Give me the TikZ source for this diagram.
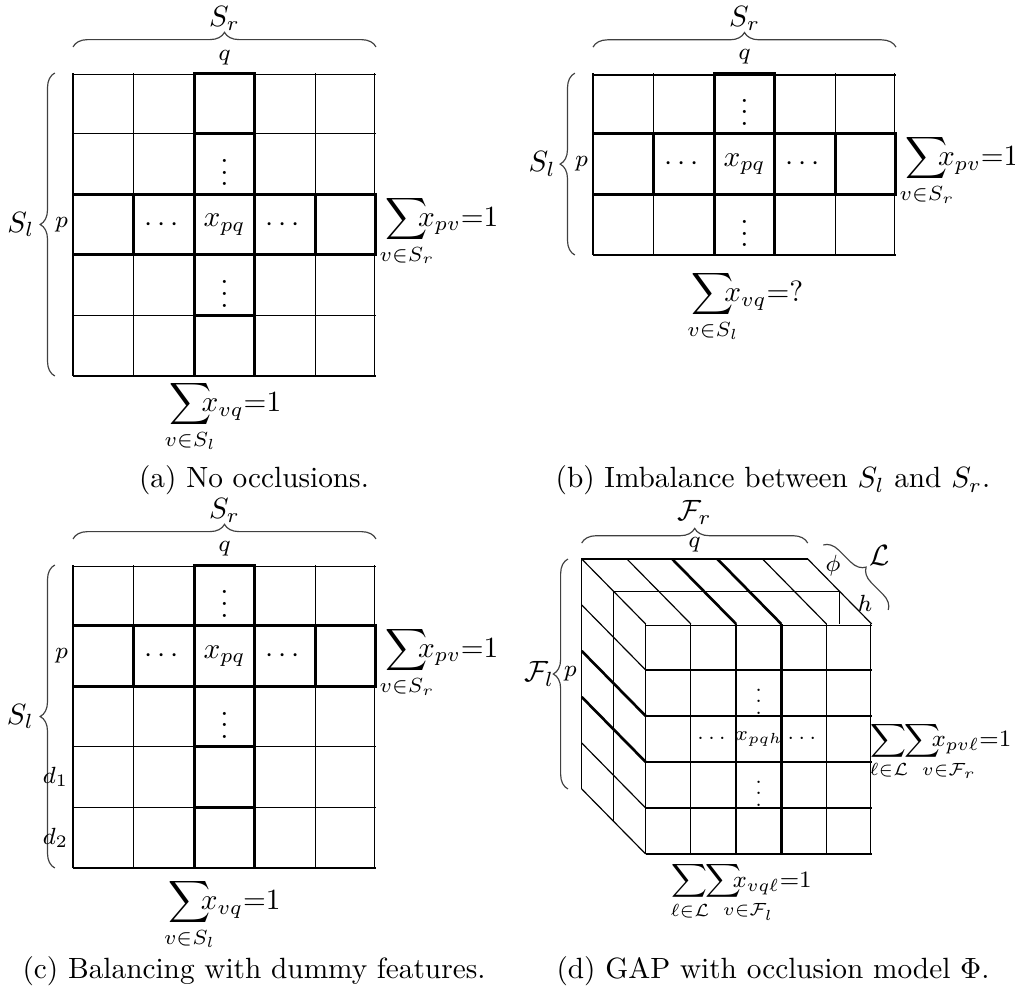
\documentclass[tikz,border=0pt]{standalone}
\usepackage{amsmath,amssymb,mathtools}
\usepackage{xcolor}
\usepackage{tikz}
\usetikzlibrary{decorations.pathreplacing,calc}
\tikzset{
  rejilla/.style={draw=black, line width=0.4pt},
  cruz/.style={draw=black, line width=0.9pt},
  llave/.style={decorate, decoration={brace, amplitude=5pt}, draw=black!75},
  etq/.style={font=\footnotesize, inner sep=1.5pt},
  conj/.style={font=\normalsize, inner sep=1pt},
  celda/.style={font=\normalsize, inner sep=0pt},
  celdac/.style={font=\scriptsize, inner sep=0pt},
  suma/.style={font=\normalsize, inner sep=0pt},
  sumac/.style={font=\footnotesize, inner sep=0pt},
  titulo/.style={font=\normalsize, inner sep=0pt, anchor=base},
}
\def\dx{-0.708}
\def\dy{0.707}

\begin{document}
\begin{tikzpicture}[x=0.3413pt, y=0.3413pt]
  \useasboundingbox (0,0) rectangle (1015,990);

  % (a) sin oclusiones
  \begin{scope}[shift={(73,614)}, scale=60.6]
    \draw[rejilla, step=1] (0,0) grid (5,5);
    \foreach \j in {0,...,4} \draw[cruz] (2,\j) rectangle (3,\j+1);
    \foreach \i in {0,...,4} \draw[cruz] (\i,2) rectangle (\i+1,3);
    \node[celda] (xa) at (2.5,2.5) {$x_{pq}$};
    \node[celda] (ia) at (1.5,2.5) {$\cdots$};
    \node[celda] (da) at (3.5,2.5) {$\cdots$};
    \node[celda] (ua) at (2.5,3.5) {$\vdots$};
    \node[celda] (ba) at (2.5,1.5) {$\vdots$};
    \draw[llave] (0,5.43) -- (5,5.43);
    \node[conj] (Sra) at (2.5,5.9) {$S_r$};
    \node[etq] (qa) at (2.5,5.26) {$q$};
    \draw[llave] (-0.3,0) -- (-0.3,5);
    \node[conj] (Sla) at (-0.86,2.5) {$S_l$};
    \node[etq, anchor=east] (pa) at (0,2.5) {$p$};
    \node[suma, anchor=base west] (fila) at (5.15,2.475)
      {$\displaystyle\sum_{\mathclap{v\in S_r}}\!\!\!x_{pv}{=}1$};
    \node[suma, anchor=base] (cola) at (2.51,-0.59)
      {$\displaystyle\sum_{\mathclap{v\in S_l}}\!\!\!x_{vq}{=}1$};
  \end{scope}
  \node[titulo] (capa) at (254,502) {(a) No occlusions.};

  % (b) desbalance
  \begin{scope}[shift={(593,735)}, scale=60.6]
    \draw[rejilla, step=1] (0,0) grid (5,3);
    \foreach \j in {0,...,2} \draw[cruz] (2,\j) rectangle (3,\j+1);
    \foreach \i in {0,...,4} \draw[cruz] (\i,1) rectangle (\i+1,2);
    \node[celda] (xb) at (2.5,1.5) {$x_{pq}$};
    \node[celda] (ib) at (1.5,1.5) {$\cdots$};
    \node[celda] (db) at (3.5,1.5) {$\cdots$};
    \node[celda] (ub) at (2.5,2.5) {$\vdots$};
    \node[celda] (bb) at (2.5,0.5) {$\vdots$};
    \draw[llave] (0,3.43) -- (5,3.43);
    \node[conj] (Srb) at (2.5,3.9) {$S_r$};
    \node[etq] (qb) at (2.5,3.27) {$q$};
    \draw[llave] (-0.3,0) -- (-0.3,3);
    \node[conj] (Slb) at (-0.84,1.5) {$S_l$};
    \node[etq, anchor=east] (pb) at (0,1.5) {$p$};
    \node[suma, anchor=base west] (filb) at (5.15,1.475)
      {$\displaystyle\sum_{\mathclap{v\in S_r}}\!\!\!x_{pv}{=}1$};
    \node[suma, anchor=base] (colb) at (2.55,-0.77)
      {$\displaystyle\sum_{\mathclap{v\in S_l}}\!\!\!x_{vq}{=}\mathbf{?}$};
  \end{scope}
  \node[titulo] (capb) at (773,502) {(b) Imbalance between $S_l$ and $S_r$.};

  % (c) rasgos ficticios
  \begin{scope}[shift={(73,122)}, scale=60.6]
    \draw[rejilla, step=1] (0,0) grid (5,5);
    \foreach \j in {0,...,4} \draw[cruz] (2,\j) rectangle (3,\j+1);
    \foreach \i in {0,...,4} \draw[cruz] (\i,3) rectangle (\i+1,4);
    \node[celda] (xc) at (2.5,3.5) {$x_{pq}$};
    \node[celda] (ic) at (1.5,3.5) {$\cdots$};
    \node[celda] (dc) at (3.5,3.5) {$\cdots$};
    \node[celda] (uc) at (2.5,4.5) {$\vdots$};
    \node[celda] (bc) at (2.5,2.5) {$\vdots$};
    \draw[llave] (0,5.43) -- (5,5.43);
    \node[conj] (Src) at (2.5,5.9) {$S_r$};
    \node[etq] (qc) at (2.5,5.27) {$q$};
    \draw[llave] (-0.3,0) -- (-0.3,5);
    \node[conj] (Slc) at (-0.87,2.5) {$S_l$};
    \node[etq, anchor=east] (pc) at (0,3.5) {$p$};
    \node[etq, anchor=east] (d1) at (0,1.5) {$d_1$};
    \node[etq, anchor=east] (d2) at (0,0.5) {$d_2$};
    \node[suma, anchor=base west] (filc) at (5.15,3.475)
      {$\displaystyle\sum_{\mathclap{v\in S_r}}\!\!\!x_{pv}{=}1$};
    \node[suma, anchor=base] (colc) at (2.5,-0.69)
      {$\displaystyle\sum_{\mathclap{v\in S_l}}\!\!\!x_{vq}{=}1$};
  \end{scope}
  \node[titulo] (capc) at (254,12) {(c) Balancing with dummy features.};

  % (d) GAP con oclusion
  \begin{scope}[shift={(645.7,136)}, xscale=45.2, yscale=46]
    \draw[rejilla, step=1] (0,0) grid (5,5);
    \draw[cruz] (2,0) -- (2,5) (3,0) -- (3,5) (0,2) -- (5,2) (0,3) -- (5,3);
    \foreach \i in {0,1,4,5} \draw[rejilla] (\i,5) -- ++(2*\dx,2*\dy);
    \foreach \i in {2,3} \draw[cruz] (\i,5) -- ++(2*\dx,2*\dy);
    \foreach \j in {0,1,4} \draw[rejilla] (0,\j) -- ++(2*\dx,2*\dy);
    \foreach \j in {2,3} \draw[cruz] (0,\j) -- ++(2*\dx,2*\dy);
    \draw[rejilla] (2*\dx,2*\dy) -- (2*\dx,5+2*\dy) -- (5+2*\dx,5+2*\dy);
    \draw[rejilla] (\dx,\dy) -- (\dx,5+\dy) -- (5+\dx,5+\dy) -- (5+\dx,5);
    \node[celdac] (xd) at (2.5,2.5) {$x_{pqh}$};
    \node[celdac] (id) at (1.5,2.5) {$\cdots$};
    \node[celdac] (dd) at (3.5,2.5) {$\cdots$};
    \node[celdac] (ud) at (2.5,3.5) {$\vdots$};
    \node[celdac] (bd) at (2.5,1.5) {$\vdots$};
    \draw[llave] (-1.416,6.76) -- (3.584,6.76);
    \node[conj] (Frd) at (1.084,7.43) {$\mathcal{F}_r$};
    \node[etq] (qd) at (1.084,6.72) {$q$};
    \node[etq] (phid) at (4.144,6.26) {$\phi$};
    \node[etq] (hd) at (4.85,5.45) {$h$};
    \draw[llave] (3.929,6.717) -- (5.367,5.304);
    \node[conj] (Ld) at (5.17,6.5) {$\mathcal{L}$};
    \draw[llave] (-1.72,1.413) -- (-1.72,6.413);
    \node[conj] (Fld) at (-2.36,3.91) {$\mathcal{F}_l$};
    \node[etq, anchor=east] (pd) at (-1.416,3.913) {$p$};
    \node[sumac, anchor=base east] (fild) at (8.1,2.33)
      {$\displaystyle\sum_{\ell\in\mathcal{L}}\!\!\sum_{\mathrlap{v\in\mathcal{F}_r}}\!\!\!x_{pv\ell}{=}1$};
    \node[sumac, anchor=base] (cold) at (2.11,-0.72)
      {$\displaystyle\sum_{\ell\in\mathcal{L}}\!\!\sum_{\mathrlap{v\in\mathcal{F}_l}}\!\!\!x_{vq\ell}{=}1$};
  \end{scope}
  \node[titulo] (capd) at (773,12) {(d) GAP with occlusion model $\Phi$.};
\end{tikzpicture}
\end{document}
